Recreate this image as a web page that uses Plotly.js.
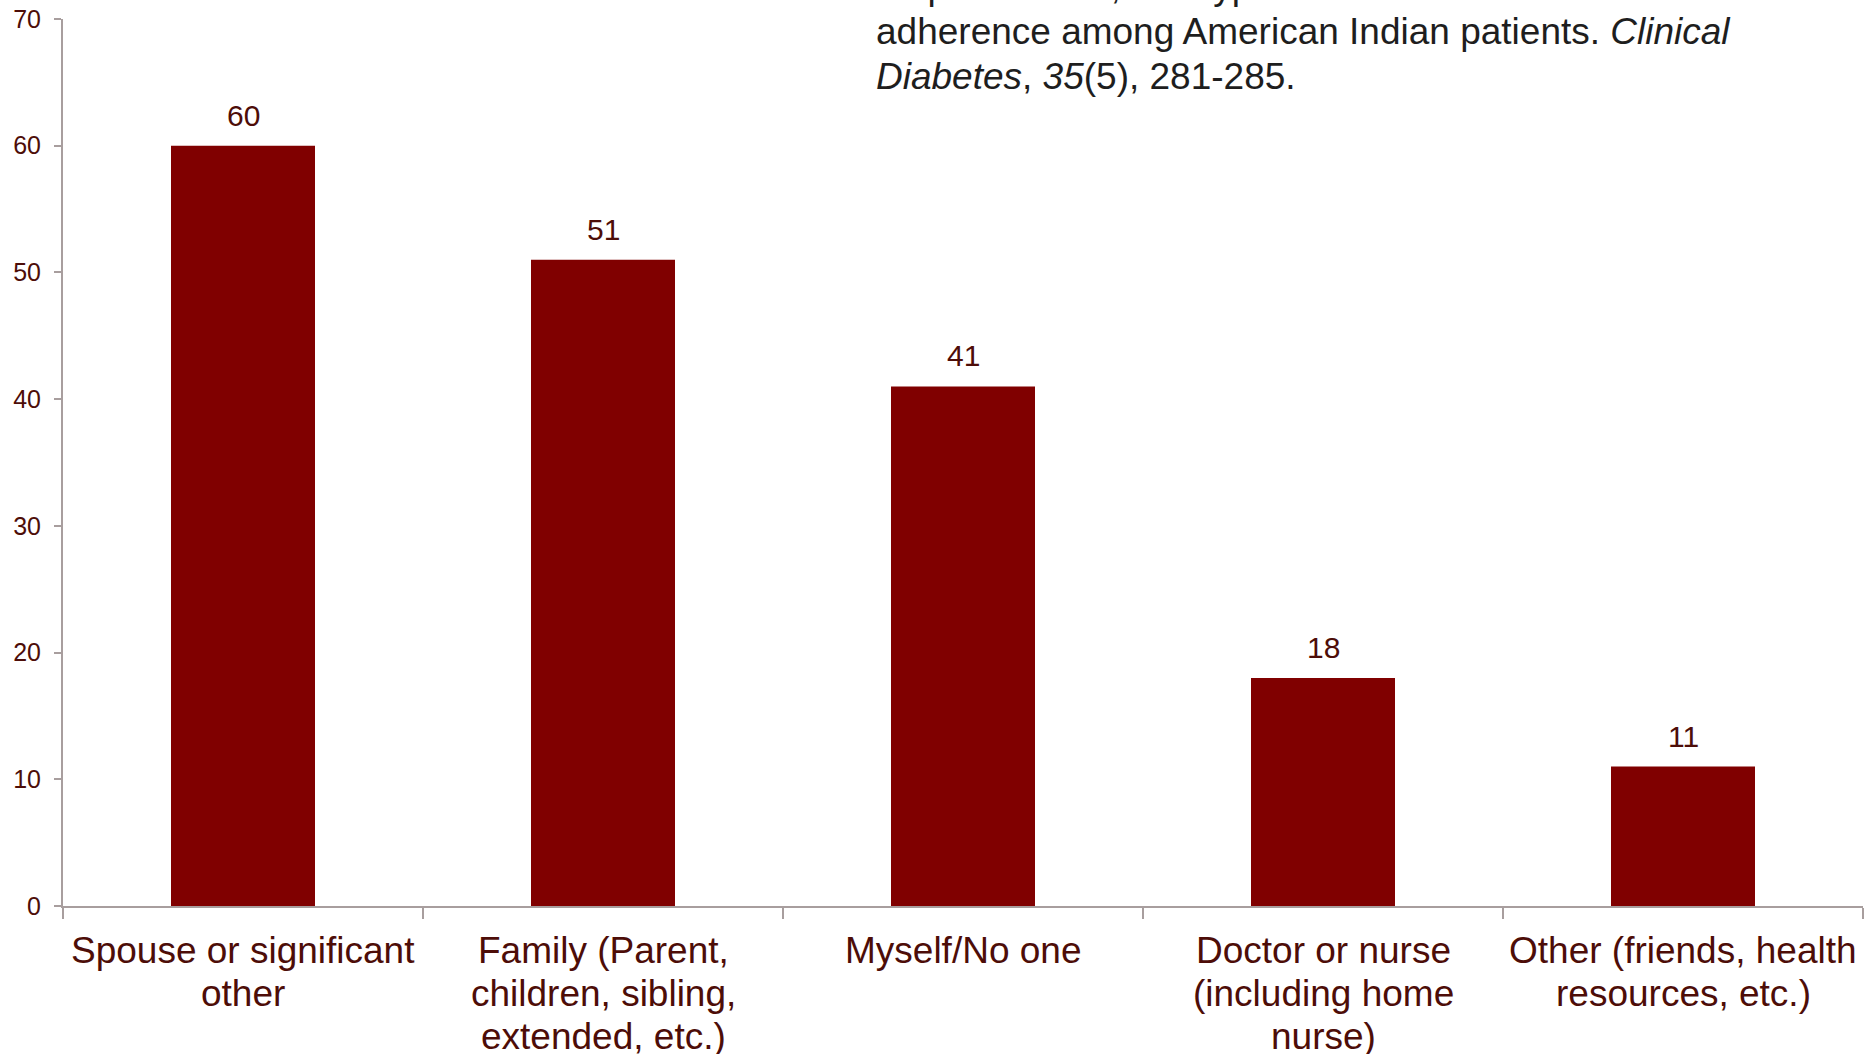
<!DOCTYPE html>
<html>
<head>
<meta charset="utf-8">
<script src="https://cdn.plot.ly/plotly-3.0.1.min.js"></script>
<style>
  html, body { margin: 0; padding: 0; background: #ffffff; }
  #chart { width: 1864px; height: 1054px; }
</style>
</head>
<body>
<div id="chart"></div>
<script>
// ---- Data ----
const categories = [
  "Spouse or significant<br>other",
  "Family (Parent,<br>children, sibling,<br>extended, etc.)",
  "Myself/No one",
  "Doctor or nurse<br>(including home<br>nurse)",
  "Other (friends, health<br>resources, etc.)"
];
const values = [60, 51, 41, 18, 11];
const yTickVals = [0, 10, 20, 30, 40, 50, 60, 70];
const citationLines = [
  "empowerment, and type 2 diabetes medication",
  "adherence among American Indian patients. <i>Clinical</i>",
  "<i>Diabetes</i>, <i>35</i>(5), 281-285."
];

// ---- Styles ----
const FONT = "Liberation Sans, Arial, Helvetica, sans-serif";
const TEXT_COLOR = "#4d0d08";
const BAR_COLOR = "#800000";
const AXIS_COLOR = "#a89e9e";
const xIdx = categories.map((_, i) => i);

const trace = {
  type: "bar",
  x: xIdx,
  y: values,
  marker: { color: BAR_COLOR, line: { width: 0 } },
  hoverinfo: "x+y"
};

const annotations = [];
// value labels above bars
values.forEach((v, i) => {
  annotations.push({
    x: i, y: v, xref: "x", yref: "y",
    text: String(v), showarrow: false,
    xanchor: "center", yanchor: "bottom", yshift: 12,
    font: { family: FONT, size: 30, color: TEXT_COLOR }
  });
});
// category labels (one annotation per line for tighter line spacing)
const catLineShifts = [-44, -87, -130];
categories.forEach((c, i) => {
  c.split("<br>").forEach((line, k) => {
    annotations.push({
      x: i, y: 0, xref: "x", yref: "paper",
      text: line, showarrow: false,
      xanchor: "center", yanchor: "middle", yshift: catLineShifts[k],
      font: { family: FONT, size: 37, color: TEXT_COLOR }
    });
  });
});
// citation text (partly cut off at the top)
const citeShifts = [33, -12, -57];
citationLines.forEach((t, i) => {
  annotations.push({
    x: 0.4506, y: 1, xref: "paper", yref: "paper",
    text: t, showarrow: false,
    xanchor: "left", yanchor: "middle", yshift: citeShifts[i],
    font: { family: FONT, size: 37, color: "#1e1e1e" }
  });
});

const layout = {
  width: 1864, height: 1054,
  margin: { l: 63, r: 1, t: 19, b: 148, pad: 0 },
  paper_bgcolor: "#ffffff",
  plot_bgcolor: "#ffffff",
  showlegend: false,
  bargap: 0.6,
  font: { family: FONT, color: TEXT_COLOR },
  xaxis: {
    type: "linear",
    range: [-0.5, 4.5],
    tickmode: "array",
    tickvals: [-0.5, 0.5, 1.5, 2.5, 3.5, 4.5],
    showticklabels: false,
    showgrid: false, zeroline: false,
    showline: true, linecolor: AXIS_COLOR, linewidth: 2,
    ticks: "outside", ticklen: 11, tickwidth: 2, tickcolor: AXIS_COLOR,
    fixedrange: true
  },
  yaxis: {
    range: [0, 70],
    tickmode: "array",
    tickvals: yTickVals,
    showgrid: false, zeroline: false,
    showline: true, linecolor: AXIS_COLOR, linewidth: 2,
    ticks: "outside", ticklen: 7, tickwidth: 2, tickcolor: AXIS_COLOR,
    tickfont: { family: FONT, size: 25, color: TEXT_COLOR },
    ticklabelstandoff: 8,
    fixedrange: true
  },
  annotations: annotations
};

Plotly.newPlot("chart", [trace], layout, { displayModeBar: false, staticPlot: true });
</script>
</body>
</html>
